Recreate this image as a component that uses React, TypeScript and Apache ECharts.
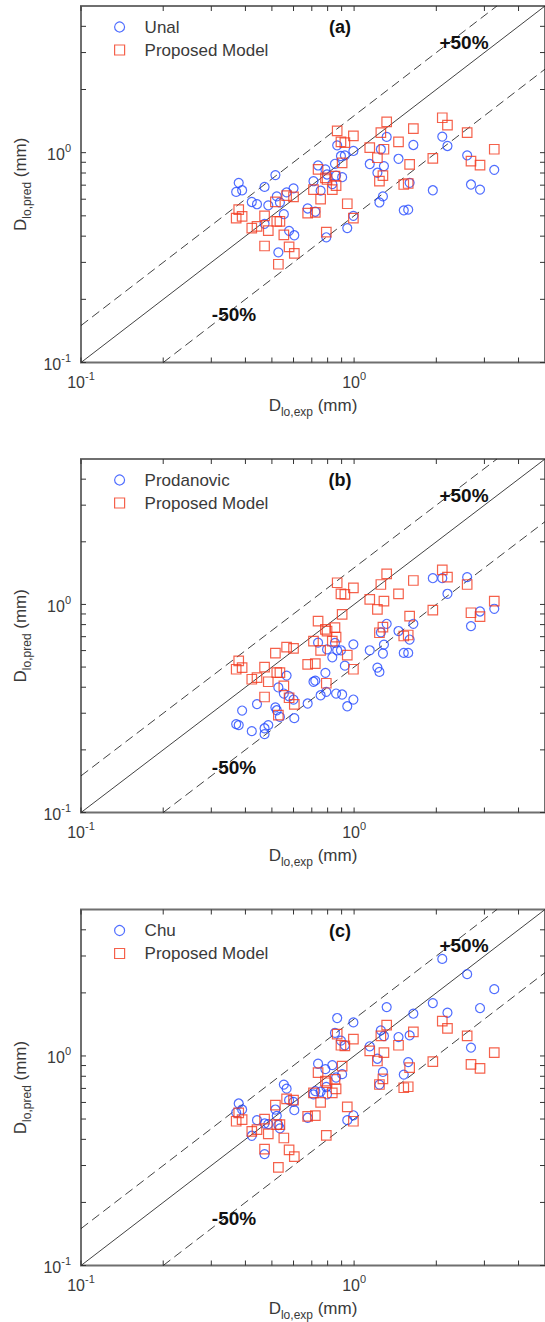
import { useEffect, useRef } from 'react';
import * as echarts from 'echarts';

// Experimental diameters D_lo,exp (mm), shared by every panel
const expX = [
  0.370, 0.378, 0.389, 0.422, 0.441, 0.470, 0.470, 0.485, 0.515, 0.521,
  0.535, 0.553, 0.566, 0.578, 0.600, 0.604, 0.528, 0.676, 0.721, 0.710,
  0.738, 0.754, 0.785, 0.796, 0.832, 0.851, 0.859, 0.791, 0.867, 0.895,
  0.925, 0.904, 0.944, 0.994, 0.994, 1.141, 1.217, 1.238, 1.253, 1.275,
  1.286, 1.316, 1.454, 1.520, 1.578, 1.597, 1.648, 1.942, 2.103, 2.197,
  2.594, 2.679, 2.891, 3.260,
];

// Proposed model predictions (same in all panels)
const proposedY = [
  0.488, 0.535, 0.497, 0.437, 0.445, 0.500, 0.359, 0.425, 0.583, 0.470,
  0.470, 0.406, 0.624, 0.356, 0.615, 0.331, 0.294, 0.515, 0.519, 0.667,
  0.832, 0.601, 0.759, 0.745, 0.667, 0.773, 0.697, 0.418, 1.271, 1.125,
  1.117, 0.895, 0.571, 1.202, 0.488, 1.057, 0.946, 0.731, 1.247, 0.778,
  1.038, 1.403, 1.125, 0.705, 0.713, 0.879, 1.303, 0.939, 1.467, 1.353,
  1.247, 0.912, 0.873, 1.038,
];

const unalY = [
  0.650, 0.718, 0.662, 0.582, 0.568, 0.687, 0.458, 0.561, 0.782, 0.619,
  0.579, 0.509, 0.647, 0.424, 0.676, 0.404, 0.335, 0.542, 0.523, 0.731,
  0.869, 0.659, 0.832, 0.787, 0.709, 0.885, 0.778, 0.395, 1.084, 0.964,
  0.971, 0.764, 0.437, 1.019, 0.500, 0.883, 0.802, 0.579, 1.038, 0.619,
  0.863, 1.189, 0.935, 0.531, 0.535, 0.718, 1.088, 0.662, 1.193, 1.076,
  0.971, 0.705, 0.667, 0.828,
];

const prodanovicY = [
  0.266, 0.263, 0.309, 0.246, 0.332, 0.254, 0.238, 0.263, 0.320, 0.310,
  0.288, 0.373, 0.455, 0.362, 0.349, 0.284, 0.399, 0.334, 0.430, 0.425,
  0.655, 0.366, 0.469, 0.608, 0.557, 0.653, 0.373, 0.380, 0.602, 0.602,
  0.508, 0.369, 0.324, 0.643, 0.349, 0.602, 0.497, 0.474, 0.734, 0.581,
  0.641, 0.807, 0.745, 0.585, 0.585, 0.678, 0.807, 1.337, 1.337, 1.125,
  1.352, 0.787, 0.925, 0.953,
];

const chuY = [
  0.537, 0.593, 0.555, 0.416, 0.494, 0.476, 0.340, 0.473, 0.555, 0.518,
  0.451, 0.730, 0.698, 0.615, 0.604, 0.551, 0.468, 0.507, 0.679, 0.656,
  0.918, 0.675, 0.865, 0.656, 0.904, 1.288, 0.789, 0.711, 1.517, 1.183,
  1.124, 0.819, 0.494, 1.446, 0.521, 1.112, 0.970, 0.730, 1.325, 0.839,
  1.245, 1.711, 1.231, 0.815, 0.935, 1.254, 1.591, 1.788, 2.906, 1.608,
  2.457, 1.096, 1.693, 2.084,
];

const modelNames = ['Unal', 'Prodanovic', 'Chu'];
const modelValues = [unalY, prodanovicY, chuY];
const panelLetters = ['(a)', '(b)', '(c)'];
const ratioLines = [1, 1.5, 0.5];
const tickValues = [0.1, 0.2, 0.3, 0.4, 0.5, 0.6, 0.7, 0.8, 0.9, 1, 2, 3, 4];
const AXIS_MIN = 0.1;
const AXIS_MAX = 5;

const BLUE = '#2348ff';
const RED = '#f2391e';
const FONT = 'Liberation Sans, Arial, sans-serif';
const TEXT = '#3a3a3a';

const gridTops = [6, 459, 909.5];
const gridHeights = [356.5, 353.5, 356];
const GRID_LEFT = 81;
const GRID_WIDTH = 465;

function tickLabel(v: number) {
  const e = Math.round(Math.log10(v));
  if (Math.abs(v - Math.pow(10, e)) > 1e-9 * Math.max(1, v)) return '';
  return `{b|10}{s|${e}}`;
}

const labelRich = {
  b: { fontSize: 16, lineHeight: 20, verticalAlign: 'bottom', fontFamily: FONT, color: TEXT },
  s: { fontSize: 11, lineHeight: 11, verticalAlign: 'top', fontFamily: FONT, color: TEXT },
};

const nameRich = {
  m: { fontSize: 17, lineHeight: 21, verticalAlign: 'top', fontFamily: FONT, color: TEXT },
  sub: { fontSize: 12, lineHeight: 12, verticalAlign: 'bottom', fontFamily: FONT, color: TEXT },
};

function buildOption() {
  const grid: any[] = [];
  const xAxis: any[] = [];
  const yAxis: any[] = [];
  const series: any[] = [];
  const legend: any[] = [];
  const graphic: any[] = [];

  for (let i = 0; i < 3; i++) {
    const top = gridTops[i];
    grid.push({
      left: GRID_LEFT,
      top,
      width: GRID_WIDTH,
      height: gridHeights[i],
      show: true,
      borderColor: '#6f6f6f',
      borderWidth: 2,
      backgroundColor: 'transparent',
      containLabel: false,
    });
    const common = {
      type: 'log',
      logBase: 10,
      min: AXIS_MIN,
      max: AXIS_MAX,
      gridIndex: i,
      axisLine: { show: false },
      axisTick: { show: false },
      splitLine: { show: false },
      minorTick: { show: false },
      nameLocation: 'middle',
      nameTextStyle: { rich: nameRich },
    };
    xAxis.push({
      ...common,
      name: '{m|D}{sub|lo,exp}{m| (mm)}',
      nameGap: 34,
      axisLabel: { formatter: tickLabel, rich: labelRich, margin: 8, showMaxLabel: false },
    });
    yAxis.push({
      ...common,
      name: '{m|D}{sub|lo,pred}{m| (mm)}',
      nameGap: 44,
      nameRotate: 90,
      axisLabel: { formatter: tickLabel, rich: labelRich, margin: 10, showMaxLabel: false },
    });

    // reference lines y = k x
    ratioLines.forEach((k, idx) => {
      const x0 = Math.max(AXIS_MIN, AXIS_MIN / k);
      const x1 = Math.min(AXIS_MAX, AXIS_MAX / k);
      series.push({
        type: 'line',
        xAxisIndex: i,
        yAxisIndex: i,
        data: [[x0, k * x0], [x1, k * x1]],
        symbol: 'none',
        silent: true,
        z: 1,
        lineStyle: { color: '#111', width: 0.8, type: idx === 0 ? 'solid' : [9, 5] },
      });
    });

    series.push({
      type: 'scatter',
      name: modelNames[i],
      xAxisIndex: i,
      yAxisIndex: i,
      symbol: 'circle',
      symbolSize: 9,
      z: 3,
      itemStyle: { color: 'rgba(0,0,0,0)', borderColor: BLUE, borderWidth: 1.2 },
      data: expX.map((x, j) => [x, modelValues[i][j]]),
    });
    series.push({
      type: 'scatter',
      name: 'Proposed Model',
      xAxisIndex: i,
      yAxisIndex: i,
      symbol: 'rect',
      symbolSize: 9.5,
      z: 4,
      itemStyle: { color: 'rgba(0,0,0,0)', borderColor: RED, borderWidth: 1.2 },
      data: expX.map((x, j) => [x, proposedY[j]]),
    });

    // inside ticks on all four sides
    series.push({
      type: 'custom',
      xAxisIndex: i,
      yAxisIndex: i,
      silent: true,
      z: 5,
      data: tickValues.flatMap((v) => [[v, AXIS_MIN, 0], [AXIS_MIN, v, 1]]),
      renderItem: (_p: any, api: any) => {
        const kind = api.value(2);
        const L = 5;
        const style = { stroke: '#333', lineWidth: 1 };
        if (kind === 0) {
          const v = api.value(0);
          const b = api.coord([v, AXIS_MIN]);
          const t = api.coord([v, AXIS_MAX]);
          return {
            type: 'group',
            children: [
              { type: 'line', shape: { x1: b[0], y1: b[1], x2: b[0], y2: b[1] - L }, style },
              { type: 'line', shape: { x1: t[0], y1: t[1], x2: t[0], y2: t[1] + L }, style },
            ],
          };
        }
        const v = api.value(1);
        const l = api.coord([AXIS_MIN, v]);
        const r = api.coord([AXIS_MAX, v]);
        return {
          type: 'group',
          children: [
            { type: 'line', shape: { x1: l[0], y1: l[1], x2: l[0] + L, y2: l[1] }, style },
            { type: 'line', shape: { x1: r[0], y1: r[1], x2: r[0] - L, y2: r[1] }, style },
          ],
        };
      },
    });

    legend.push({
      orient: 'vertical',
      left: 114,
      top: top + 12,
      padding: 0,
      itemGap: 5,
      itemWidth: 10,
      itemHeight: 10,
      selectedMode: false,
      textStyle: { fontSize: 17, lineHeight: 18, color: TEXT, fontFamily: FONT, padding: [0, 0, 0, 15] },
      data: [
        { name: modelNames[i], icon: 'circle', itemStyle: { color: 'rgba(0,0,0,0)', borderColor: BLUE, borderWidth: 1.2 } },
        { name: 'Proposed Model', icon: 'rect', itemStyle: { color: 'rgba(0,0,0,0)', borderColor: RED, borderWidth: 1.2 } },
      ],
    });

    graphic.push(
      {
        type: 'text',
        x: 340,
        y: top + 21,
        style: { text: panelLetters[i], fontSize: 18, fontWeight: 'bold', fontFamily: FONT, fill: '#111', textAlign: 'center', textVerticalAlign: 'middle' },
      },
      {
        type: 'text',
        x: 464,
        y: top + 36,
        style: { text: '+50%', fontSize: 19, fontWeight: 'bold', fontFamily: FONT, fill: '#111', textAlign: 'center', textVerticalAlign: 'middle' },
      },
      {
        type: 'text',
        x: 234,
        y: top + 308.5,
        style: { text: '-50%', fontSize: 19, fontWeight: 'bold', fontFamily: FONT, fill: '#111', textAlign: 'center', textVerticalAlign: 'middle' },
      },
    );
  }

  return {
    animation: false,
    backgroundColor: '#ffffff',
    textStyle: { fontFamily: FONT },
    grid,
    xAxis,
    yAxis,
    legend,
    series,
    graphic,
  };
}

export default function App() {
  const ref = useRef<HTMLDivElement>(null);
  useEffect(() => {
    if (!ref.current) return;
    const chart = echarts.init(ref.current, undefined, { renderer: 'svg' });
    chart.setOption(buildOption() as any);
    return () => chart.dispose();
  }, []);
  return (
    <div
      ref={ref}
      style={{ position: 'absolute', left: 0, top: 0, width: 545, height: 1322, background: '#fff' }}
    />
  );
}
